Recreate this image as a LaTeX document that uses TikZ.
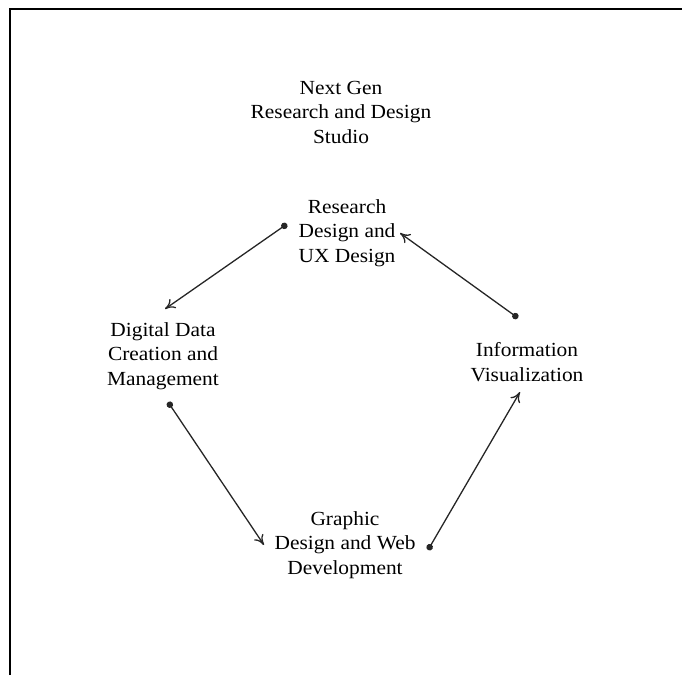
\documentclass[tikz,border=0pt]{standalone}
\usepackage{fontspec}
\setmainfont{Liberation Serif}[FakeStretch=1.07]
\usetikzlibrary{arrows.meta}
\begin{document}
\begin{tikzpicture}[x=1pt,y=-1pt,
  lbl/.style={align=center,inner sep=0pt,font=\fontsize{20}{24.5}\selectfont},
  flow/.style={line width=1.3pt,draw=black!85,{Circle[length=6.5pt]}-{To[length=10pt,width=11pt]}},
  frameline/.style={line width=2pt}]
\useasboundingbox (0,0) rectangle (682,675);
\draw[frameline] (10,675) -- (10,9) -- (682,9);
\node[lbl] (title) at (341,112) {Next Gen\\Research and Design\\Studio};
\node[lbl] (rux) at (347,233) {Research\\Design and\\UX Design};
\node[lbl] (info) at (527,362) {Information\\Visualization};
\node[lbl] (ddm) at (163,356) {Digital Data\\Creation and\\Management};
\node[lbl] (gdw) at (345,545) {Graphic\\Design and Web\\Development};
\coordinate (a1s) at (287,224); \coordinate (a1e) at (165,309);
\coordinate (a2s) at (518,318); \coordinate (a2e) at (400,233);
\coordinate (a3s) at (168,402); \coordinate (a3e) at (264,545);
\coordinate (a4s) at (428,550); \coordinate (a4e) at (520,392);
\draw[flow] (a1s) -- (a1e);
\draw[flow] (a2s) -- (a2e);
\draw[flow] (a3s) -- (a3e);
\draw[flow] (a4s) -- (a4e);
\end{tikzpicture}
\end{document}
